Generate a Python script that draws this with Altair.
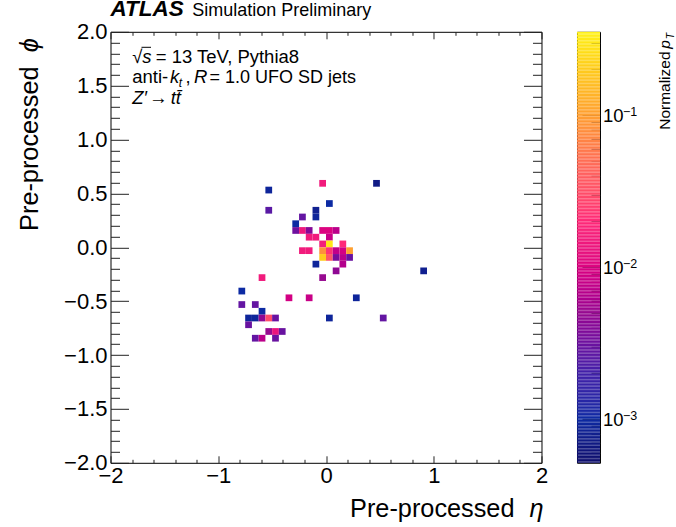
import altair as alt
import pandas as pd

# ---------------- data: occupied cells of the jet image ----------------
eta = [-0.03125, 0.46875, -0.53125, 0.03125, -0.53125, -0.21875, -0.09375, -0.09375,
       -0.28125, -0.28125, -0.21875, -0.15625, -0.03125, 0.03125, 0.09375, -0.15625,
       -0.09375, 0.03125, -0.03125, 0.03125, 0.15625, -0.21875, -0.15625, -0.03125,
       0.03125, 0.09375, 0.15625, 0.21875, -0.03125, 0.03125, 0.09375, 0.15625,
       0.21875, -0.09375, 0.15625, 0.09375, -0.59375, -0.03125, -0.78125, -0.34375,
       -0.15625, 0.28125, -0.78125, -0.65625, -0.59375, -0.71875, -0.65625, -0.59375,
       -0.53125, -0.46875, 0.03125, 0.53125, -0.71875, -0.53125, -0.46875, -0.40625,
       -0.65625, -0.59375, -0.46875, 0.90625]
phi = [0.59375, 0.59375, 0.53125, 0.40625, 0.34375, 0.28125, 0.34375, 0.28125,
       0.21875, 0.15625, 0.15625, 0.15625, 0.15625, 0.15625, 0.15625, 0.09375,
       0.09375, 0.09375, 0.03125, 0.03125, 0.03125, -0.03125, -0.03125, -0.03125,
       -0.03125, -0.03125, -0.03125, -0.03125, -0.09375, -0.09375, -0.09375, -0.09375,
       -0.09375, -0.15625, -0.15625, -0.21875, -0.28125, -0.28125, -0.40625, -0.46875,
       -0.46875, -0.46875, -0.53125, -0.53125, -0.59375, -0.65625, -0.65625, -0.65625,
       -0.65625, -0.65625, -0.65625, -0.65625, -0.71875, -0.78125, -0.78125, -0.78125,
       -0.84375, -0.84375, -0.84375, -0.21875]
val = [0.015, 0.0007, 0.0009, 0.001, 0.0025, 0.0028, 0.0008, 0.0009,
       0.001, 0.0032, 0.014, 0.004, 0.010, 0.010, 0.007, 0.015,
       0.015, 0.008, 0.016, 0.30, 0.020, 0.015, 0.015, 0.08,
       0.022, 0.0075, 0.009, 0.10, 0.20, 0.035, 0.0035, 0.007,
       0.003, 0.0009, 0.0065, 0.0045, 0.015, 0.005, 0.001, 0.009,
       0.008, 0.0009, 0.0028, 0.0028, 0.001, 0.0009, 0.0009, 0.0045,
       0.03, 0.003, 0.0009, 0.0028, 0.003, 0.005, 0.013, 0.003,
       0.0028, 0.007, 0.003, 0.0008]

# axis ticks
x_major = [-2, -1, 0, 1, 2]
x_minor = [-1.8, -1.6, -1.4, -1.2, -0.8, -0.6, -0.4, -0.2, 0.2, 0.4, 0.6, 0.8,
           1.2, 1.4, 1.6, 1.8]
y_major = [-2.0, -1.5, -1.0, -0.5, 0.0, 0.5, 1.0, 1.5, 2.0]
y_minor = [v / 10 for v in range(-19, 20) if v % 5 != 0]

# colour bar
cb_lo, cb_hi = 5.14e-4, 0.352
cb_major = [0.001, 0.01, 0.1]
cb_exp = ["\u22123", "\u22122", "\u22121"]
cb_minor = [6e-4, 7e-4, 8e-4, 9e-4, 2e-3, 3e-3, 4e-3, 5e-3, 6e-3, 7e-3, 8e-3, 9e-3,
            2e-2, 3e-2, 4e-2, 5e-2, 6e-2, 7e-2, 8e-2, 9e-2, 0.2, 0.3]
cb_stops = [cb_lo, 0.001, 0.002, 0.003, 0.005, 0.01, 0.02, 0.04, 0.1, cb_hi]
cb_colors = ["#0e0e6c", "#0c2aa3", "#4220a8", "#6812a0", "#970a90", "#dc0480",
             "#ff2a78", "#ff6060", "#ffa030", "#fff21a"]

BIN = 0.0625
W = H = 431
FONT = "Liberation Sans"
TITLE_SIZE = 25.3

df = pd.DataFrame({"eta": eta, "phi": phi, "val": val})

xs = alt.Scale(domain=[-2, 2], nice=False, zero=False)
ys = alt.Scale(domain=[-2, 2], nice=False, zero=False)
cs = alt.Scale(type="log", domain=cb_stops, range=cb_colors)

base = alt.Chart(df).transform_calculate(
    x1=f"datum.eta - {BIN/2}", x2=f"datum.eta + {BIN/2}",
    y1=f"datum.phi - {BIN/2}", y2=f"datum.phi + {BIN/2}")

TICK = dict(domain=False, grid=False, tickColor="#222", tickWidth=1)

heat = base.mark_rect().encode(
    x=alt.X("x1:Q", scale=xs, title=None,
            axis=alt.Axis(orient="bottom", values=x_major, format="d", tickSize=7, offset=-7,
                          labelPadding=2.5, labelFontSize=22, labelFlush=False,
                          labelOverlap=False, labelFont=FONT, labelColor="black", **TICK)),
    x2="x2:Q",
    y=alt.Y("y1:Q", scale=ys, title=None,
            axis=alt.Axis(orient="left", values=y_major, format=".1f", tickSize=18, offset=-18,
                          labelPadding=3.5, labelFontSize=22, labelFlush=False,
                          labelOverlap=False, labelFont=FONT, labelColor="black", **TICK)),
    y2="y2:Q",
    color=alt.Color("val:Q", scale=cs, legend=None),
)


def tick_layer(xo, yo, xv, yv, xlen, ylen):
    return base.mark_point(opacity=0).encode(
        x=alt.X("eta:Q", scale=xs, title=None,
                axis=alt.Axis(orient=xo, values=xv, tickSize=xlen, offset=-xlen, labels=False, **TICK)),
        y=alt.Y("phi:Q", scale=ys, title=None,
                axis=alt.Axis(orient=yo, values=yv, tickSize=ylen, offset=-ylen, labels=False, **TICK)),
    )


t_minor = tick_layer("bottom", "left", x_minor, y_minor, 3.5, 9)
t_top = tick_layer("top", "right", x_major, y_major, 7, 18)
t_top_minor = tick_layer("top", "right", x_minor, y_minor, 3.5, 9)

ONE = alt.Data(values=[{}])


def txt(s, x, y, size, style="normal", weight="normal", angle=0, align="left"):
    return alt.Chart(ONE).mark_text(
        text=s, fontSize=size, fontStyle=style, fontWeight=weight, angle=angle,
        align=align, baseline="alphabetic", font=FONT, color="black",
    ).encode(x=alt.value(x), y=alt.value(y))


sqrt_bar = alt.Chart(ONE).mark_rule(color="black", strokeWidth=1).encode(
    x=alt.value(31.0), x2=alt.value(40.5), y=alt.value(15.5))

texts = [
    txt("ATLAS", 0, -15.5, 22.5, style="italic", weight="bold"),
    txt("Simulation Preliminary", 81.8, -15.5, 18),
    txt("\u221a", 21.8, 31.3, 18.5),
    txt("s", 31.8, 31.3, 18.5, style="italic"),
    txt("= 13 TeV, Pythia8", 45.2, 31.3, 18.5),
    txt("anti-", 21.8, 51.3, 18.5),
    txt("k", 59.5, 51.3, 18.5, style="italic"),
    txt("t", 68.2, 55.3, 12, style="italic"),
    txt(",", 75.0, 51.3, 18.5),
    txt("R", 83.5, 51.3, 18.5, style="italic"),
    txt("= 1.0 UFO SD jets", 99.0, 51.3, 18),
    txt("Z\u2032", 21.8, 72.3, 18.5, style="italic"),
    txt("\u2192", 38.5, 72.3, 18.5),
    txt("tt\u0304", 60.2, 72.3, 18.5, style="italic"),
    # axis titles
    txt("Pre-processed", 404, 485.3, TITLE_SIZE, align="right"),
    txt("\u03b7", 433, 485.3, TITLE_SIZE, style="italic", align="right"),
    txt("Pre-processed", -72.3, 34.7, TITLE_SIZE, angle=270, align="right"),
    txt("\u03d5", -72.3, 6.3, TITLE_SIZE, style="italic", angle=270, align="right"),
]

main = alt.layer(heat, t_minor, t_top, t_top_minor, sqrt_bar, *texts).resolve_axis(
    x="independent", y="independent").properties(width=W, height=H)

# ---------------- colour bar ----------------
N = 300
cb_scale = alt.Scale(type="log", domain=[cb_lo, cb_hi], nice=False)
cb_x = alt.Scale(domain=[0, 1], nice=False, zero=False)
cb_base = alt.Chart(alt.sequence(0, N, as_="i")).transform_calculate(
    lo=f"{cb_lo} * pow({cb_hi}/{cb_lo}, datum.i/{N})",
    hi=f"{cb_lo} * pow({cb_hi}/{cb_lo}, (datum.i+1)/{N})",
    a="0", b="1")

cb_rect = cb_base.mark_rect().encode(
    x=alt.X("a:Q", scale=cb_x, axis=None),
    x2="b:Q",
    y=alt.Y("lo:Q", scale=cb_scale, title=None,
            axis=alt.Axis(orient="left", values=cb_major, tickSize=18, offset=-23,
                          labels=False, **TICK)),
    y2="hi:Q",
    color=alt.Color("lo:Q", scale=cs, legend=None),
)
cb_minor_l = cb_base.mark_point(opacity=0).encode(
    x=alt.X("a:Q", scale=cb_x, axis=None),
    y=alt.Y("lo:Q", scale=cb_scale, title=None,
            axis=alt.Axis(orient="left", values=cb_minor, tickSize=9, offset=-23,
                          labels=False, **TICK)))

lab_df = pd.DataFrame({"v": cb_major, "e": cb_exp})
cb_ten = alt.Chart(lab_df).mark_text(
    text="10", fontSize=18.5, font=FONT, align="left", baseline="alphabetic", dy=7.4,
    color="black").encode(x=alt.value(26), y=alt.Y("v:Q", scale=cb_scale, axis=None))
cb_pow = alt.Chart(lab_df).mark_text(
    fontSize=12.5, font=FONT, align="left", baseline="alphabetic", dy=0.8,
    color="black").encode(x=alt.value(46), y=alt.Y("v:Q", scale=cb_scale, axis=None),
                          text="e:N")

cb_texts = [
    txt("Normalized", 93.5, 98, 15.5, angle=270),
    txt("p", 93.5, 17, 15.5, style="italic", angle=270),
    txt("T", 97.5, 7.5, 10.5, style="italic", angle=270),
]

cbar = alt.layer(cb_rect, cb_minor_l, cb_ten, cb_pow, *cb_texts).resolve_axis(
    y="independent").properties(width=23, height=H)

chart = alt.hconcat(main, cbar, spacing=24.5).resolve_scale(color="independent").properties(
    padding={"left": 17.5, "top": -2.2, "right": -2, "bottom": 0}
).configure_view(stroke="black", strokeWidth=1).configure_text(font=FONT)

chart.save("out.html", embed_options={"renderer": "svg", "actions": False})
